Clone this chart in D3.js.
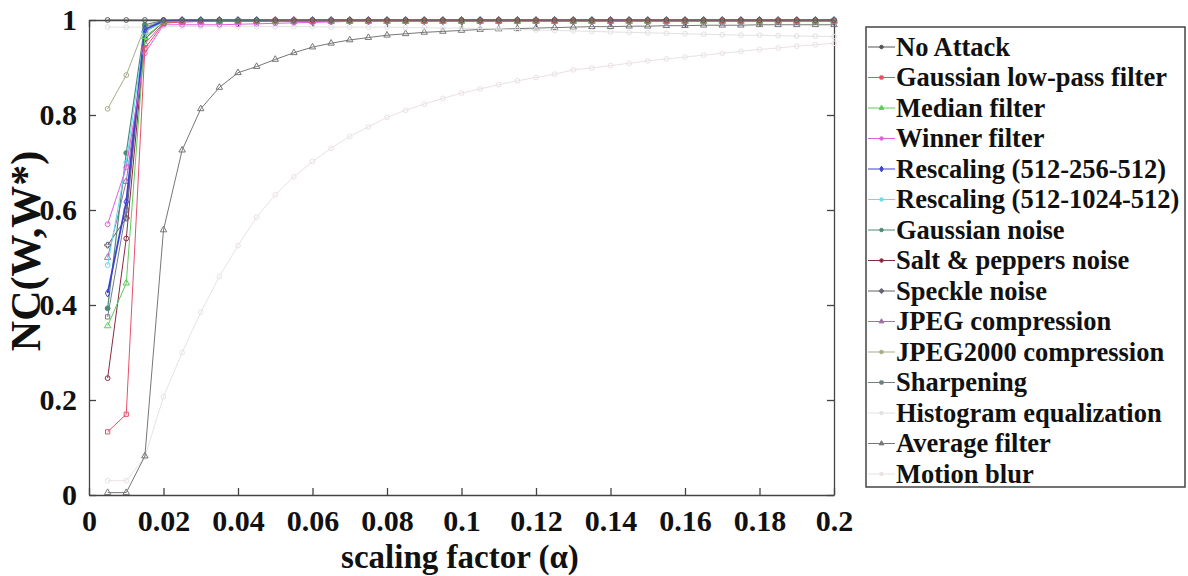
<!DOCTYPE html>
<html>
<head>
<meta charset="utf-8">
<script src="https://cdn.jsdelivr.net/npm/d3@7"></script>
<style>
  body { margin: 0; background: #fff; }
  svg text { font-weight: 700; fill: #111; }
</style>
</head>
<body>
<svg id="chart" width="1188" height="576"></svg>
<script>
// scaling factor values (x)
const xs = [0.005,0.01,0.015,0.02,0.025,0.03,0.035,0.04,0.045,0.05,0.055,0.06,0.065,0.07,0.075,0.08,0.085,0.09,0.095,0.1,
            0.105,0.11,0.115,0.12,0.125,0.13,0.135,0.14,0.145,0.15,0.155,0.16,0.165,0.17,0.175,0.18,0.185,0.19,0.195,0.2];

// NC values per attack
const noAttack     = [1,1,1,1,1,1,1,1,1,1,1,1,1,1,1,1,1,1,1,1,1,1,1,1,1,1,1,1,1,1,1,1,1,1,1,1,1,1,1,1];
const gaussLowPass = [0.133,0.17,0.94,0.993,0.996,0.997,0.997,0.997,0.997,0.998,0.998,0.998,0.998,0.998,0.998,0.998,0.998,0.998,0.998,0.998,0.998,0.998,0.998,0.998,0.998,0.998,0.998,0.998,0.998,0.998,0.998,0.998,0.998,0.998,0.998,0.998,0.998,0.998,0.998,0.998];
const median       = [0.356,0.446,0.965,0.995,0.997,0.997,0.998,0.998,0.998,0.998,0.998,0.998,0.998,0.998,0.998,0.998,0.998,0.998,0.998,0.998,0.998,0.998,0.998,0.998,0.998,0.998,0.998,0.998,0.998,0.998,0.998,0.998,0.998,0.998,0.998,0.998,0.998,0.998,0.998,0.998];
const winner       = [0.57,0.69,0.93,0.99,0.99,0.99,0.99,0.991,0.992,0.993,0.994,0.995,0.996,0.997,0.997,0.997,0.997,0.997,0.997,0.997,0.997,0.997,0.997,0.997,0.997,0.997,0.997,0.997,0.997,0.997,0.997,0.997,0.997,0.997,0.997,0.997,0.997,0.997,0.997,0.997];
const rescale256   = [0.425,0.617,0.98,0.998,0.999,0.999,0.999,0.999,0.999,0.999,0.999,0.999,0.999,0.999,0.999,0.999,0.999,0.999,0.999,0.999,0.999,0.999,0.999,0.999,0.999,0.999,0.999,0.999,0.999,0.999,0.999,0.999,0.999,0.999,0.999,0.999,0.999,0.999,0.999,0.999];
const rescale1024  = [0.484,0.70,0.975,0.997,0.998,0.998,0.998,0.998,0.998,0.998,0.998,0.998,0.998,0.998,0.998,0.998,0.998,0.998,0.998,0.998,0.998,0.998,0.998,0.998,0.998,0.998,0.998,0.998,0.998,0.998,0.998,0.998,0.998,0.998,0.998,0.998,0.998,0.998,0.998,0.998];
const gaussNoise   = [0.393,0.72,0.99,0.999,0.999,0.999,0.999,0.999,0.999,0.999,0.999,0.999,0.999,0.999,0.999,0.999,0.999,0.999,0.999,0.999,0.999,0.999,0.999,0.999,0.999,0.999,0.999,0.999,0.999,0.999,0.999,0.999,0.999,0.999,0.999,0.999,0.999,0.999,0.999,0.999];
const saltPepper   = [0.246,0.54,0.96,0.996,0.997,0.998,0.998,0.998,0.998,0.998,0.998,0.998,0.998,0.998,0.998,0.998,0.998,0.998,0.998,0.998,0.998,0.998,0.998,0.998,0.998,0.998,0.998,0.998,0.998,0.998,0.998,0.998,0.998,0.998,0.998,0.998,0.998,0.998,0.998,0.998];
const speckle      = [0.526,0.583,0.975,0.997,0.998,0.998,0.998,0.998,0.998,0.998,0.998,0.998,0.998,0.998,0.998,0.998,0.998,0.998,0.998,0.998,0.998,0.998,0.998,0.998,0.998,0.998,0.998,0.998,0.998,0.998,0.998,0.998,0.998,0.998,0.998,0.998,0.998,0.998,0.998,0.998];
const jpeg         = [0.50,0.66,0.95,0.994,0.996,0.997,0.997,0.997,0.997,0.997,0.997,0.997,0.997,0.997,0.997,0.997,0.997,0.997,0.997,0.997,0.997,0.997,0.997,0.997,0.997,0.997,0.997,0.997,0.997,0.997,0.997,0.997,0.997,0.997,0.997,0.997,0.997,0.997,0.997,0.997];
const jpeg2000     = [0.813,0.884,0.986,0.997,0.998,0.998,0.998,0.998,0.998,0.998,0.998,0.998,0.998,0.998,0.998,0.998,0.998,0.998,0.998,0.998,0.998,0.998,0.998,0.998,0.998,0.998,0.998,0.998,0.998,0.998,0.998,0.998,0.998,0.998,0.998,0.998,0.998,0.998,0.998,0.998];
const sharpening   = [0.375,0.60,0.985,0.998,0.999,0.999,0.999,0.999,0.999,0.999,0.999,0.999,0.999,0.999,0.999,0.999,0.999,0.999,0.999,0.999,0.999,0.999,0.999,0.999,0.999,0.999,0.999,0.999,0.999,0.999,0.999,0.999,0.999,0.999,0.999,0.999,0.999,0.999,0.999,0.999];
const histEq       = [0.985,0.985,0.985,0.986,0.986,0.986,0.986,0.986,0.986,0.986,0.986,0.986,0.985,0.985,0.985,0.985,0.984,0.984,0.983,0.983,0.982,0.981,0.98,0.979,0.978,0.977,0.976,0.975,0.974,0.973,0.972,0.971,0.970,0.969,0.968,0.968,0.967,0.966,0.966,0.965];
const average      = [0.005,0.005,0.082,0.558,0.726,0.813,0.858,0.889,0.902,0.917,0.931,0.943,0.951,0.958,0.963,0.968,0.971,0.974,0.976,0.978,0.980,0.981,0.982,0.983,0.984,0.985,0.986,0.986,0.987,0.987,0.988,0.988,0.989,0.989,0.989,0.990,0.990,0.990,0.990,0.990];
const motionBlur   = [0.03,0.03,0.08,0.207,0.30,0.385,0.46,0.525,0.585,0.632,0.67,0.702,0.73,0.755,0.775,0.795,0.81,0.823,0.835,0.846,0.855,0.864,0.872,0.879,0.886,0.895,0.899,0.904,0.909,0.914,0.918,0.922,0.926,0.93,0.934,0.938,0.941,0.945,0.948,0.951];

const seriesNames = ["No Attack","Gaussian low-pass filter","Median filter","Winner filter","Rescaling (512-256-512)",
  "Rescaling (512-1024-512)","Gaussian noise","Salt & peppers noise","Speckle noise","JPEG compression",
  "JPEG2000 compression","Sharpening","Histogram equalization","Average filter","Motion blur"];

const xTicks = [0,0.02,0.04,0.06,0.08,0.1,0.12,0.14,0.16,0.18,0.2];
const xTickLabels = ["0","0.02","0.04","0.06","0.08","0.1","0.12","0.14","0.16","0.18","0.2"];
const yTicks = [0,0.2,0.4,0.6,0.8,1];
const yTickLabels = ["0","0.2","0.4","0.6","0.8","1"];

const values = [noAttack,gaussLowPass,median,winner,rescale256,rescale1024,gaussNoise,saltPepper,speckle,jpeg,jpeg2000,sharpening,histEq,average,motionBlur];
const colors = ["#555555","#e8506a","#5ccc5c","#e060e0","#4040d0","#60dff0","#4f8a78","#8a2a40","#606070","#a070a8","#a8ad88","#708080","#e2e2e2","#777777","#ebe2e2"];
const symbols = [d3.symbolCircle,d3.symbolSquare,d3.symbolTriangle,d3.symbolCircle,d3.symbolDiamond,d3.symbolCircle,
  d3.symbolCircle,d3.symbolCircle,d3.symbolCross,d3.symbolTriangle,d3.symbolCircle,d3.symbolSquare,d3.symbolCircle,d3.symbolTriangle,d3.symbolCircle];
const widths = [1,1,1,1,1.8,1,1.2,1,1,1,1,1,1,1,1];

const FONT = "'Liberation Serif', 'Times New Roman', serif";
const svg = d3.select("#chart");
const plotL = 89, plotR = 834, plotT = 20, plotB = 495;

const x = d3.scaleLinear().domain([0, 0.2]).range([plotL, plotR]);
const y = d3.scaleLinear().domain([0, 1]).range([plotB, plotT]);

// box + ticks (inward, on all four sides)
svg.append("g").attr("transform", "translate(0," + plotB + ")")
  .call(d3.axisBottom(x).tickValues(xTicks).tickFormat((d, i) => xTickLabels[i]).tickSize(-7).tickSizeOuter(0).tickPadding(15))
  .attr("font-family", FONT).attr("font-size", 30);
svg.append("g").attr("transform", "translate(" + plotL + ",0)")
  .call(d3.axisLeft(y).tickValues(yTicks).tickFormat((d, i) => yTickLabels[i]).tickSize(-7).tickSizeOuter(0).tickPadding(12))
  .attr("font-family", FONT).attr("font-size", 30);
svg.append("g").attr("transform", "translate(0," + plotT + ")")
  .call(d3.axisTop(x).tickValues(xTicks).tickFormat("").tickSize(-7).tickSizeOuter(0));
svg.append("g").attr("transform", "translate(" + plotR + ",0)")
  .call(d3.axisRight(y).tickValues(yTicks).tickFormat("").tickSize(-7).tickSizeOuter(0));
svg.selectAll(".domain, .tick line").attr("stroke", "#444").attr("stroke-width", 1.3);

// lines, drawn last-to-first so the top group sits above the faint ones
const line = d3.line().x((d, i) => x(xs[i])).y(d => y(d));
const order = d3.range(values.length).reverse();
const plot = svg.append("g");
order.forEach(k => {
  plot.append("path").datum(values[k])
    .attr("d", line).attr("fill", "none")
    .attr("stroke", colors[k]).attr("stroke-width", widths[k]);
  plot.append("g").selectAll("path").data(values[k]).join("path")
    .attr("transform", (d, i) => "translate(" + x(xs[i]) + "," + y(d) + ")")
    .attr("d", d3.symbol().type(symbols[k]).size(18))
    .attr("fill", k === 6 ? colors[k] : "none")
    .attr("stroke", colors[k]).attr("stroke-width", 1);
});

// axis titles
svg.append("text").attr("x", 460).attr("y", 568).attr("text-anchor", "middle")
  .attr("font-family", FONT).attr("font-size", 33).text("scaling factor (\u03b1)");
svg.append("text").attr("transform", "translate(40,251) rotate(-90)").attr("text-anchor", "middle")
  .attr("font-family", FONT).attr("font-size", 42).text("NC(W,W*)");

// legend
const lg = svg.append("g");
lg.append("rect").attr("x", 866).attr("y", 27).attr("width", 319).attr("height", 460)
  .attr("fill", "#fff").attr("stroke", "#444").attr("stroke-width", 1.5);
const rowY = d3.scaleLinear().domain([0, seriesNames.length - 1]).range([47, 474]);
seriesNames.forEach((name, k) => {
  const cy = rowY(k);
  lg.append("line").attr("x1", 868).attr("x2", 895).attr("y1", cy).attr("y2", cy)
    .attr("stroke", colors[k]).attr("stroke-width", 1);
  lg.append("path").attr("transform", "translate(881.5," + cy + ")")
    .attr("d", d3.symbol().type(symbols[k]).size(10))
    .attr("fill", colors[k]).attr("stroke", colors[k]);
  lg.append("text").attr("x", 896).attr("y", cy).attr("dy", "0.33em")
    .attr("font-family", FONT).attr("font-size", 26.5).text(name);
});
</script>
</body>
</html>
